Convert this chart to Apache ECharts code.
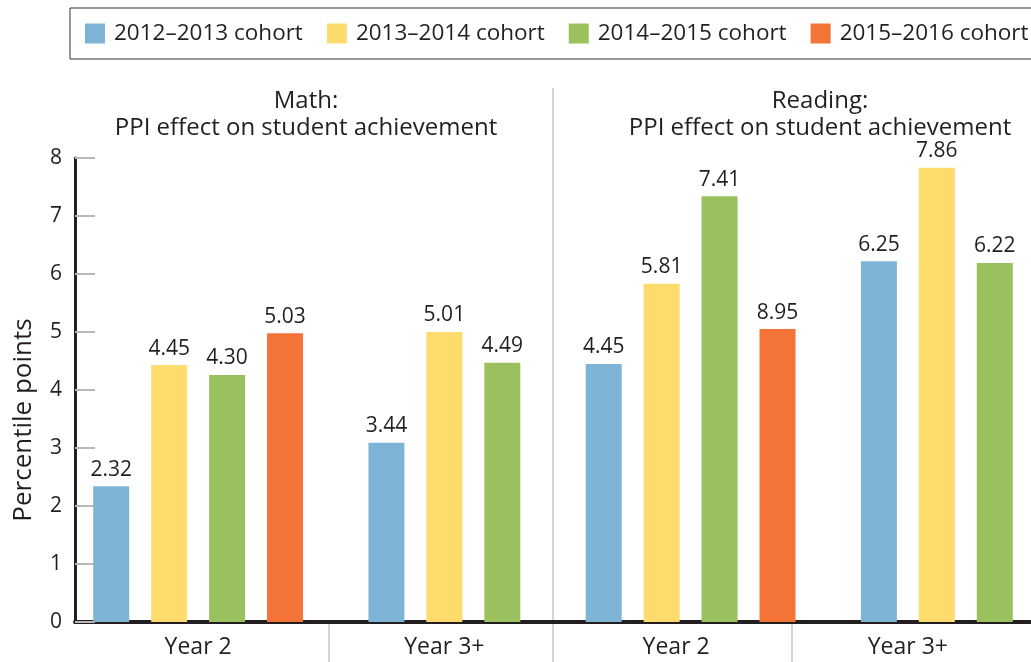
<!DOCTYPE html>
<html>
<head>
<meta charset="utf-8">
<script src="https://cdn.jsdelivr.net/npm/echarts@6/dist/echarts.min.js"></script>
<style>
html,body{margin:0;padding:0;background:#fff;overflow:hidden;}
#chart{width:1031px;height:662px;}
</style>
</head>
<body>
<div id="chart"></div>
<script>
// ---- data ----
const subjects = ['Math', 'Reading'];
const periods = ['Year 2', 'Year 3+'];
const cohorts = ['2012–2013 cohort', '2013–2014 cohort', '2014–2015 cohort', '2015–2016 cohort'];
const yTicks = [0, 1, 2, 3, 4, 5, 6, 7, 8];
// groups: Math Year 2, Math Year 3+, Reading Year 2, Reading Year 3+
const cohort1Heights = [2.34, 3.09, 4.45, 6.22];
const cohort2Heights = [4.43, 5.00, 5.83, 7.83];
const cohort3Heights = [4.26, 4.47, 7.34, 6.19];
const cohort4Heights = [4.98, null, 5.05, null];
const cohort1Labels = ['2.32', '3.44', '4.45', '6.25'];
const cohort2Labels = ['4.45', '5.01', '5.81', '7.86'];
const cohort3Labels = ['4.30', '4.49', '7.41', '6.22'];
const cohort4Labels = ['5.03', null, '8.95', null];
const colors = ['#7db4d6', '#fddb6d', '#9bc15e', '#f47438'];

// ---- layout (slots on a fine category axis) ----
const slotCount = 66;
const groupStart = [0, 17, 33, 50];
const firstOffset = [2, 4, 3, 5];
const labelSlot = [8, 25, 41, 57];
const lowerSeparators = [35, 99];   // in half-slot units
const midSeparator = 66;            // in half-slot units

const heights = [cohort1Heights, cohort2Heights, cohort3Heights, cohort4Heights];
const labels = [cohort1Labels, cohort2Labels, cohort3Labels, cohort4Labels];
const groupNames = [];
subjects.forEach(() => periods.forEach(p => groupNames.push(p)));

const slotCats = [];
for (let i = 0; i < slotCount; i++) slotCats.push('');
labelSlot.forEach((s, g) => { slotCats[s] = groupNames[g]; });
const edgeCats = [];
for (let i = 0; i <= slotCount * 2; i++) edgeCats.push('e' + i);

const series = cohorts.map((name, c) => {
  const data = new Array(slotCount).fill('-');
  const lab = {};
  for (let g = 0; g < 4; g++) {
    const v = heights[c][g];
    if (v == null) continue;
    const s = groupStart[g] + firstOffset[g] + 4 * c;
    data[s] = v;
    lab[s] = labels[c][g];
  }
  return {
    name: name,
    type: 'bar',
    stack: 'all',
    barWidth: 36,
    itemStyle: { color: colors[c] },
    data: data,
    label: {
      show: true,
      position: 'top',
      distance: 6,
      fontFamily: 'Open Sans',
      fontSize: 21,
      color: '#231f20',
      formatter: p => lab[p.dataIndex] || ''
    }
  };
});

const sepAxis = (gridIndex, fn) => ({
  type: 'category', gridIndex: gridIndex, data: edgeCats, boundaryGap: false,
  axisLine: { show: false }, axisTick: { show: false }, axisLabel: { show: false },
  splitLine: { show: true, interval: fn, lineStyle: { color: '#c4c4c4', width: 1.5 } }
});

const chart = echarts.init(document.getElementById('chart'));
chart.setOption({
  animation: false,
  color: colors,
  textStyle: { fontFamily: 'Open Sans', color: '#231f20' },
  title: [
    { text: 'Math:\nPPI effect on student achievement', left: 301, top: 83, textAlign: 'center',
      textStyle: { fontFamily: 'Open Sans', fontSize: 24, fontWeight: 'normal', color: '#231f20', lineHeight: 27, align: 'center' } },
    { text: 'Reading:\nPPI effect on student achievement', left: 815, top: 83, textAlign: 'center',
      textStyle: { fontFamily: 'Open Sans', fontSize: 24, fontWeight: 'normal', color: '#231f20', lineHeight: 27, align: 'center' } }
  ],
  legend: {
    left: 70, top: 8, width: 1000,
    padding: [14, 15, 14, 15],
    borderColor: '#333', borderWidth: 1,
    itemWidth: 20, itemHeight: 20, itemGap: 24,
    icon: 'rect',
    textStyle: { fontFamily: 'Open Sans', fontSize: 22.5, color: '#231f20', padding: [0, 0, 0, 4] },
    data: cohorts
  },
  grid: [
    { left: 75, right: 0, top: 158, bottom: 40 },
    { left: 75, right: 0, top: 88, bottom: 0 },
    { left: 75, right: 0, top: 622, bottom: 0 }
  ],
  xAxis: [
    {
      type: 'category', gridIndex: 0, data: slotCats,
      axisLine: { show: true, lineStyle: { color: '#231f20', width: 4 } },
      axisTick: { show: false },
      axisLabel: { interval: 0, fontFamily: 'Open Sans', fontSize: 23, color: '#231f20', margin: 14 },
      splitLine: { show: false }
    },
    sepAxis(1, (i) => i === midSeparator),
    sepAxis(2, (i) => lowerSeparators.indexOf(i) >= 0)
  ],
  yAxis: [
    {
      type: 'value', gridIndex: 0, min: yTicks[0], max: yTicks[yTicks.length - 1], interval: 1,
      name: 'Percentile points', nameLocation: 'middle', nameGap: 38,
      nameTextStyle: { fontFamily: 'Open Sans', fontSize: 26, color: '#231f20', padding: [0, 60, 0, 0] },
      axisLine: { show: true, lineStyle: { color: '#231f20', width: 3 } },
      axisTick: { show: true, inside: true, length: 20, lineStyle: { color: '#b8b8b8', width: 2 } },
      axisLabel: { fontFamily: 'Open Sans', fontSize: 21, color: '#231f20', margin: 13 },
      splitLine: { show: false }
    },
    { type: 'value', gridIndex: 1, show: false, min: 0, max: 1 },
    { type: 'value', gridIndex: 2, show: false, min: 0, max: 1 }
  ],
  series: series
});
</script>
</body>
</html>
